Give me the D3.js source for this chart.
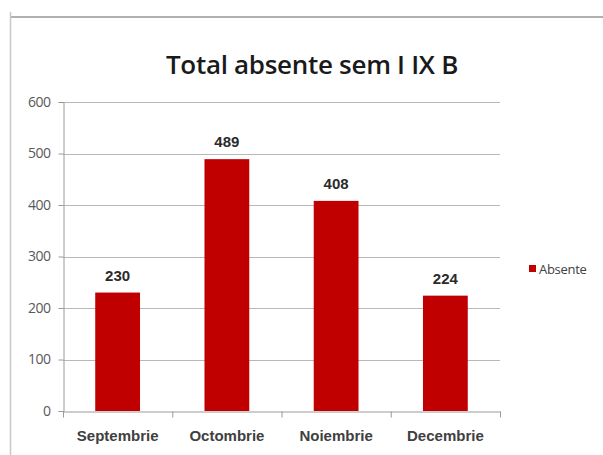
<!DOCTYPE html>
<html>
<head>
<meta charset="utf-8">
<script src="https://cdn.jsdelivr.net/npm/d3@7"></script>
<style>
  body { margin: 0; background: #fff; }
</style>
</head>
<body>
<svg></svg>
<script>
const months = ["Septembrie", "Octombrie", "Noiembrie", "Decembrie"];
const absente = [230, 489, 408, 224];
const yTicks = [0, 100, 200, 300, 400, 500, 600];

const width = 603;
const height = 455;
const margin = { top: 102, right: 103, bottom: 43, left: 63 };

const svg = d3.select("svg")
    .attr("width", width)
    .attr("height", height);

// chart frame (partial border as in the screenshot)
svg.append("line")
    .attr("x1", 10).attr("x2", width)
    .attr("y1", 17).attr("y2", 17)
    .attr("stroke", "#b0b0b0").attr("stroke-width", 2);
svg.append("line")
    .attr("x1", 10.5).attr("x2", 10.5)
    .attr("y1", 12).attr("y2", height)
    .attr("stroke", "#c8c8c8").attr("stroke-width", 1.5);

svg.append("text")
    .attr("x", 312)
    .attr("y", 74)
    .attr("text-anchor", "middle")
    .style("font-family", "'Open Sans', sans-serif")
    .style("font-weight", "600")
    .style("font-size", "26px")
    .style("letter-spacing", "-0.3px")
    .style("fill", "#1a1a1a")
    .text("Total absente sem I IX B");

const x = d3.scaleBand()
    .domain(months)
    .range([margin.left, width - margin.right])
    .paddingInner(0.59)
    .paddingOuter(0.295);

const y = d3.scaleLinear()
    .domain([0, 600])
    .range([height - margin.bottom - 1, margin.top]);

// gridlines
svg.append("g")
    .selectAll("line")
    .data(yTicks.slice(1))
    .enter().append("line")
    .attr("x1", margin.left).attr("x2", width - margin.right)
    .attr("y1", d => Math.round(y(d)) + 0.5).attr("y2", d => Math.round(y(d)) + 0.5)
    .attr("stroke", "#b8b8b8");

// y axis
const yAxis = svg.append("g")
    .attr("transform", `translate(${margin.left + 0.5},0)`)
    .call(d3.axisLeft(y).tickValues(yTicks).tickSize(5).tickPadding(8));
yAxis.select(".domain").attr("stroke", "#9a9a9a");
yAxis.selectAll(".tick line").attr("stroke", "#9a9a9a");
yAxis.selectAll("text")
    .style("font-family", "'Open Sans', sans-serif")
    .style("font-size", "14px")
    .style("letter-spacing", "-0.5px")
    .style("fill", "#595959");

// bars
svg.append("g")
    .selectAll("rect")
    .data(absente)
    .enter().append("rect")
    .attr("x", (d, i) => x(months[i]))
    .attr("y", d => y(d))
    .attr("width", x.bandwidth())
    .attr("height", d => y(0) - y(d))
    .attr("fill", "#c00000");

// value labels
svg.append("g")
    .selectAll("text")
    .data(absente)
    .enter().append("text")
    .attr("x", (d, i) => x(months[i]) + x.bandwidth() / 2)
    .attr("y", d => y(d) - 12)
    .attr("text-anchor", "middle")
    .style("font-family", "'Liberation Sans', Arial, sans-serif")
    .style("font-weight", "bold")
    .style("font-size", "15px")
    .style("fill", "#2b2b2b")
    .text(d => d);

// x axis
const xAxis = svg.append("g")
    .attr("transform", `translate(0,${Math.round(y(0)) + 0.5})`)
    .call(d3.axisBottom(x).tickSize(0).tickPadding(19));
xAxis.select(".domain").attr("stroke", "#9a9a9a");
xAxis.selectAll("text")
    .style("font-family", "'Liberation Sans', Arial, sans-serif")
    .style("font-weight", "bold")
    .style("font-size", "15px")
    .style("fill", "#404040");
// category separator ticks
xAxis.selectAll(".sep")
    .data(d3.range(months.length + 1))
    .enter().append("line")
    .attr("class", "sep")
    .attr("x1", i => margin.left + i * x.step() + 0.5)
    .attr("x2", i => margin.left + i * x.step() + 0.5)
    .attr("y1", 0).attr("y2", 6)
    .attr("stroke", "#9a9a9a");

// legend
const legend = svg.append("g").attr("transform", "translate(529,265)");
legend.append("rect")
    .attr("width", 7).attr("height", 7)
    .attr("fill", "#c00000");
legend.append("text")
    .attr("x", 10).attr("y", 9)
    .style("font-family", "'Open Sans', sans-serif")
    .style("font-size", "13px")
    .style("letter-spacing", "-0.3px")
    .style("fill", "#404040")
    .text("Absente");
</script>
</body>
</html>
